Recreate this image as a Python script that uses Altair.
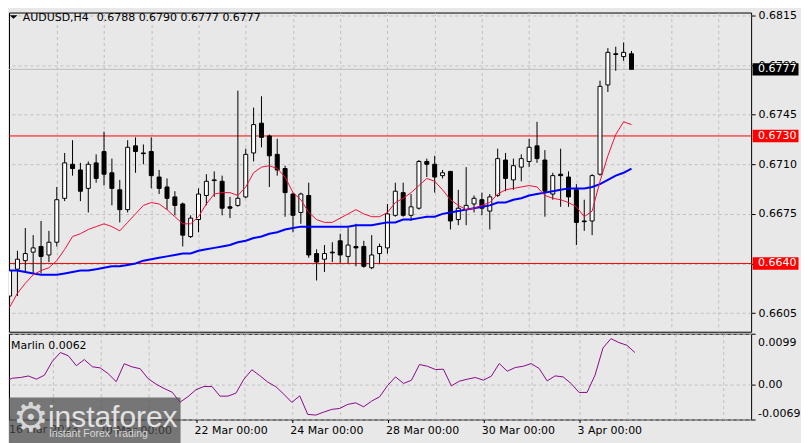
import altair as alt
import pandas as pd

# ---------------- data ----------------
opens = [0.6617, 0.6636, 0.6642, 0.6648, 0.6652, 0.6646, 0.6655, 0.6686, 0.6710, 0.6706,
         0.6693, 0.6711, 0.6719, 0.6704, 0.6692, 0.6678, 0.6723, 0.67180, 0.6719, 0.6701,
         0.6694, 0.6687, 0.6682, 0.6659, 0.6671, 0.6688, 0.66990, 0.6698, 0.6680, 0.6681,
         0.6687, 0.6718, 0.6739, 0.6730, 0.6717, 0.6707, 0.6689, 0.6676, 0.6688, 0.6647,
         0.6643, 0.66480, 0.6656, 0.6645, 0.6652, 0.6652, 0.6637, 0.6647, 0.6651, 0.6674,
         0.6690, 0.6674, 0.6679, 0.6712, 0.6710, 0.6702, 0.6705, 0.6671, 0.6678, 0.6682,
         0.6685, 0.6677, 0.6688, 0.6713, 0.6699, 0.6708, 0.6712, 0.6723, 0.6713, 0.6689,
         0.6703, 0.6701, 0.6692, 0.66700, 0.6670, 0.6703, 0.6766, 0.67880, 0.6786, 0.6788]
highs = [0.6645, 0.6649, 0.6665, 0.6660, 0.6670, 0.6663, 0.6694, 0.6718, 0.6727, 0.6711,
         0.6712, 0.6717, 0.6733, 0.6714, 0.6699, 0.6727, 0.6729, 0.6724, 0.6729, 0.6706,
         0.6700, 0.6691, 0.6683, 0.6674, 0.6693, 0.6703, 0.6705, 0.6702, 0.6687, 0.6762,
         0.6721, 0.6750, 0.6758, 0.6731, 0.6728, 0.6709, 0.6690, 0.6690, 0.6697, 0.6650,
         0.6653, 0.6655, 0.6661, 0.6665, 0.6668, 0.6656, 0.6660, 0.6654, 0.6682, 0.6697,
         0.6697, 0.6689, 0.6713, 0.6714, 0.6716, 0.6706, 0.6705, 0.6692, 0.6708, 0.6688,
         0.6690, 0.6689, 0.6721, 0.6718, 0.6714, 0.6717, 0.6728, 0.6740, 0.6720, 0.6704,
         0.6721, 0.6705, 0.6696, 0.6685, 0.6703, 0.6769, 0.6792, 0.6793, 0.6796, 0.6790]
lows = [0.6612, 0.6617, 0.6634, 0.6633, 0.6633, 0.6641, 0.6652, 0.6684, 0.6702, 0.6684,
        0.6676, 0.6697, 0.6695, 0.6681, 0.6669, 0.6676, 0.6704, 0.6710, 0.6693, 0.6689,
        0.6678, 0.6674, 0.6652, 0.6658, 0.6662, 0.6681, 0.6687, 0.6674, 0.6672, 0.6680,
        0.6686, 0.6712, 0.6722, 0.6694, 0.6702, 0.6673, 0.6662, 0.6668, 0.6644, 0.6628,
        0.6634, 0.6641, 0.6640, 0.6640, 0.6638, 0.6637, 0.6636, 0.6640, 0.6647, 0.6673,
        0.6673, 0.6670, 0.6678, 0.6701, 0.6690, 0.6700, 0.6664, 0.6667, 0.6667, 0.6676,
        0.6674, 0.6664, 0.6687, 0.6691, 0.6692, 0.6698, 0.6708, 0.6711, 0.6673, 0.6685,
        0.6680, 0.6680, 0.6653, 0.6663, 0.6660, 0.6702, 0.6761, 0.6776, 0.6783, 0.6777]
closes = [0.6635, 0.6643, 0.6647, 0.6651, 0.6645, 0.6655, 0.6685, 0.6711, 0.6707, 0.6691,
          0.6710, 0.6700, 0.6703, 0.6693, 0.6678, 0.6722, 0.6719, 0.67175, 0.6702, 0.6693,
          0.6686, 0.6681, 0.6660, 0.6672, 0.6689, 0.6698, 0.66985, 0.6679, 0.6679, 0.6686,
          0.6717, 0.6738, 0.6729, 0.6716, 0.6706, 0.6690, 0.6674, 0.6689, 0.6646, 0.6641,
          0.6647, 0.66475, 0.6646, 0.6653, 0.6651, 0.6638, 0.6646, 0.6652, 0.6675, 0.6691,
          0.6674, 0.6680, 0.6712, 0.6710, 0.6701, 0.6704, 0.6670, 0.6679, 0.6681, 0.6686,
          0.6679, 0.6687, 0.6714, 0.6700, 0.6709, 0.6714, 0.6722, 0.6714, 0.6691, 0.6702,
          0.6702, 0.6687, 0.6669, 0.66695, 0.6702, 0.6765, 0.6789, 0.67875, 0.6789, 0.6777]
ma_fast = [0.6609, 0.6619, 0.6626, 0.6632, 0.6635, 0.6637, 0.6642, 0.6650, 0.6659, 0.6661,
           0.6664, 0.6666, 0.6668, 0.6666, 0.6663, 0.6669, 0.6675, 0.6681, 0.6683, 0.6682,
           0.6678, 0.6673, 0.6668, 0.6668, 0.6673, 0.6682, 0.6689, 0.6690, 0.6690, 0.6688,
           0.6694, 0.6704, 0.6708, 0.6709, 0.6707, 0.6701, 0.6690, 0.6685, 0.6676, 0.6671,
           0.6669, 0.6669, 0.6672, 0.6675, 0.6678, 0.6675, 0.6673, 0.6673, 0.6676, 0.6683,
           0.6686, 0.6690, 0.6695, 0.6700, 0.6698, 0.6692, 0.6685, 0.6681, 0.6678, 0.6679,
           0.6681, 0.6683, 0.6689, 0.6692, 0.6693, 0.6694, 0.6695, 0.6694, 0.6688, 0.6686,
           0.6685, 0.6683, 0.6680, 0.6673, 0.6677, 0.6698, 0.6716, 0.6731, 0.6740, 0.6738]
ma_slow = [0.6635, 0.6635, 0.6634, 0.6633, 0.6632, 0.6632, 0.6632, 0.6633, 0.6634, 0.6635,
           0.6635, 0.6636, 0.6637, 0.6638, 0.6638, 0.6639, 0.6640, 0.6642, 0.6643, 0.6644,
           0.6645, 0.6646, 0.6647, 0.6647, 0.6649, 0.6650, 0.6651, 0.6652, 0.6653, 0.6655,
           0.6656, 0.6658, 0.6659, 0.6661, 0.6662, 0.6664, 0.6665, 0.6666, 0.6666, 0.6666,
           0.6666, 0.6666, 0.6666, 0.6666, 0.6667, 0.6667, 0.6667, 0.6668, 0.6669, 0.6669,
           0.6671, 0.6671, 0.6672, 0.6673, 0.6673, 0.6675, 0.6676, 0.6677, 0.6678, 0.6679,
           0.6680, 0.6681, 0.6683, 0.6683, 0.6685, 0.6686, 0.6688, 0.6689, 0.6690, 0.6691,
           0.6692, 0.6693, 0.6693, 0.6693, 0.6694, 0.6696, 0.6699, 0.6702, 0.6704, 0.6707]
marlin = [0.00051, 0.00119, 0.00133, 0.00162, 0.00100, 0.00178, 0.00451, 0.00621, 0.00559, 0.00363,
          0.00484, 0.00344, 0.00320, 0.00207, 0.00051, 0.00402, 0.00340, 0.00305, 0.00109, 0.00002,
          -0.00082, -0.00154, -0.00350, -0.00242, -0.00105, -0.00043, -0.00043, -0.00232, -0.00232, -0.00174,
          0.00100, 0.00285, 0.00168, 0.00041, -0.00047, -0.00193, -0.00355, -0.00227, -0.00590, -0.00603,
          -0.00545, -0.00492, -0.00473, -0.00395, -0.00363, -0.00441, -0.00330, -0.00246, -0.00027, 0.00145,
          0.00016, 0.00080, 0.00387, 0.00353, 0.00289, 0.00295, -0.00031, 0.00061, 0.00100, 0.00133,
          0.00080, 0.00158, 0.00406, 0.00256, 0.00328, 0.00353, 0.00406, 0.00309, 0.00066, 0.00164,
          0.00145, 0.00016, -0.00160, -0.00160, 0.00178, 0.00711, 0.00894, 0.00816, 0.00764, 0.00621]

first_label = "16 Mar 2023"
x_labels = ["20 Mar 00:00", "22 Mar 00:00", "24 Mar 00:00", "28 Mar 00:00", "30 Mar 00:00", "3 Apr 00:00"]
price_ticks = [0.6815, 0.6780, 0.6745, 0.6710, 0.6675, 0.6640, 0.6605]
marlin_ticks = [-0.0069, 0.0, 0.0099]
marlin_tick_labels = ["-0.0069", "0.00", "0.0099"]
levels = [0.6730, 0.6640]
last_price = 0.6777
symbol_text = "AUDUSD,H4"
ohlc_text = "0.6788 0.6790 0.6777 0.6777"
marlin_text = "Marlin 0.0062"
brand_text = "instaforex"
brand_sub = "Instant Forex Trading"

# ---------------- layout / style ----------------
W = 744
H_MAIN = 320
H_SUB = 86
X0 = 0.5625
PX_PER_PRICE = 14205.0
Y_TOP = 0.68171
FONT = "DejaVu Sans"
GRID = "#c0c0c0"
BG = "#e8e8e8"

candles = pd.DataFrame({
    "i": list(range(len(opens))), "o": opens, "h": highs, "l": lows, "c": closes,
    "fast": ma_fast, "slow": ma_slow, "marlin": marlin,
})

xscale = alt.Scale(domain=[X0, X0 + W / 8.0], nice=False, zero=False)
yscale = alt.Scale(domain=[Y_TOP - H_MAIN / PX_PER_PRICE, Y_TOP], nice=False, zero=False)
mscale = alt.Scale(domain=[marlin_ticks[0], marlin_ticks[-1]], nice=False, zero=False)

grid_vals = list(range(6, 91, 6))

x_main_axis = alt.Axis(values=grid_vals, labels=False, ticks=False, domain=False, title=None,
                       grid=True, gridColor=GRID, gridDash=[3, 3], gridWidth=1,
                       minExtent=0, maxExtent=0)
y_main_axis = alt.Axis(orient="right", values=price_ticks, format=".4f", title=None, domain=False,
                       ticks=True, tickSize=4, tickColor="black", labelPadding=3,
                       labelFont=FONT, labelFontSize=11, labelColor="black", labelOverlap=False,
                       grid=True, gridColor=GRID, gridDash=[3, 3], gridWidth=1)

lab_arr = "[" + ",".join("'" + s + "'" for s in x_labels) + "]"
x_sub_axis = alt.Axis(
    values=grid_vals, title=None, domain=False,
    labelExpr=f"(datum.value % 12 === 0 && datum.value >= 12 && datum.value <= 72) ? {lab_arr}[datum.value / 12 - 1] : ''",
    ticks=True, tickSize=3, tickColor="black",
    tickOpacity={"condition": {"test": "datum.value % 12 === 0 && datum.value <= 72", "value": 1}, "value": 0},
    labelAlign="left", labelBaseline="top", labelPadding=2, labelOffset=-2, labelFlush=False,
    labelOverlap=False, labelFont=FONT, labelFontSize=11, labelColor="black",
    grid=True, gridColor=GRID, gridDash=[3, 3], gridWidth=1)
y_sub_axis = alt.Axis(
    orient="right", values=marlin_ticks, title=None, domain=False, labels=False,
    ticks=True, tickSize=4, tickColor="black",
    grid=True, gridColor=GRID, gridDash=[3, 3], gridWidth=1)

X = alt.X("i:Q", scale=xscale, axis=x_main_axis)

def Y(field):
    return alt.Y(field, scale=yscale, axis=y_main_axis)

base = alt.Chart(candles)

last_df = pd.DataFrame({"p": [last_price]})
lvl_df = pd.DataFrame({"p": levels})
tag_df = pd.DataFrame({"p": [last_price] + levels,
                       "t": [f"{last_price:.4f}"] + [f"{v:.4f}" for v in levels],
                       "bg": ["black"] + ["red"] * len(levels)})

last_rule = alt.Chart(last_df).mark_rule(color="#bdbdbd", strokeWidth=1).encode(y=Y("p:Q"))
lvl_rule = alt.Chart(lvl_df).mark_rule(color="#ff0000", strokeWidth=1).encode(y=Y("p:Q"))

wicks = base.mark_rule(color="black", strokeWidth=1, clip=True).encode(x=X, y=Y("l:Q"), y2="h:Q")
bodies = base.mark_bar(width=4, stroke="black", strokeWidth=1, clip=True).encode(
    x=X, y=Y("o:Q"), y2="c:Q",
    color=alt.condition("datum.c > datum.o", alt.value("white"), alt.value("black")))
slow_line = base.mark_line(color="#0000ff", strokeWidth=2, clip=True).encode(x=X, y=Y("slow:Q"))
fast_line = base.mark_line(color="#f0103c", strokeWidth=1, clip=True).encode(x=X, y=Y("fast:Q"))

tag_box = alt.Chart(tag_df).mark_point(shape="M-1,-0.27H1V0.27H-1Z", filled=True, size=46 * 46,
                                       opacity=1, strokeWidth=0).encode(
    x=alt.value(W + 24.5), y=Y("p:Q"), color=alt.Color("bg:N", scale=None))
tag_text = alt.Chart(tag_df).mark_text(align="left", baseline="middle", font=FONT, fontSize=11,
                                       color="white").encode(
    x=alt.value(W + 7), y=Y("p:Q"), text="t:N")

one = pd.DataFrame({"k": [0]})
hdr1 = alt.Chart(pd.DataFrame({"t": [symbol_text]})).mark_text(
    align="left", baseline="alphabetic", font=FONT, fontSize=11, color="black").encode(
    x=alt.value(13.7), y=alt.value(8.7), text="t:N")
hdr2 = alt.Chart(pd.DataFrame({"t": [ohlc_text]})).mark_text(
    align="left", baseline="alphabetic", font=FONT, fontSize=11, color="black").encode(
    x=alt.value(88), y=alt.value(8.7), text="t:N")
tri = alt.Chart(one).mark_point(shape="M-1,-0.45L1,-0.45L0,0.45Z", filled=True, size=64,
                                color="black", opacity=1, strokeWidth=0).encode(
    x=alt.value(4.5), y=alt.value(4.5))

main = alt.layer(last_rule, lvl_rule, wicks, bodies, slow_line, fast_line,
                 tag_box, tag_text, hdr1, hdr2, tri).properties(width=W, height=H_MAIN)

# ---------------- oscillator panel ----------------
XS = alt.X("i:Q", scale=xscale, axis=x_sub_axis)
MY = alt.Y("v:Q", scale=mscale, axis=y_sub_axis)
marlin_line = base.mark_line(color="#8b0a8b", strokeWidth=1, clip=True).encode(
    x=XS, y=alt.Y("marlin:Q", scale=mscale, axis=y_sub_axis))

mt_df = pd.DataFrame({"v": marlin_ticks, "t": marlin_tick_labels})
m_lbls = [
    alt.Chart(mt_df[mt_df["t"] == lbl]).mark_text(
        align="left", baseline="middle", font=FONT, fontSize=11, color="black", dy=dy).encode(
        x=alt.value(W + 7), y=MY, text="t:N")
    for lbl, dy in zip(marlin_tick_labels, [-6.0, 0.5, 9.5])
]
marlin_lbl = alt.Chart(pd.DataFrame({"t": [marlin_text]})).mark_text(
    align="left", baseline="alphabetic", font=FONT, fontSize=11, color="black").encode(
    x=alt.value(2), y=alt.value(15.5), text="t:N")
first_lbl = alt.Chart(pd.DataFrame({"t": [first_label]})).mark_text(
    align="left", baseline="top", font=FONT, fontSize=11, color="black").encode(
    x=alt.value(0), y=alt.value(H_SUB + 5), text="t:N")

wm_box = alt.Chart(one).mark_rect(color="#4a4a4a", opacity=0.72).encode(
    x=alt.value(0), x2=alt.value(172), y=alt.value(64), y2=alt.value(110))
wm_gear = alt.Chart(pd.DataFrame({"t": ["\u2699"]})).mark_text(
    align="center", baseline="middle", font=FONT, fontSize=40, color="#d6d6d6").encode(
    x=alt.value(22), y=alt.value(86), text="t:N")
wm_brand = alt.Chart(pd.DataFrame({"t": [brand_text]})).mark_text(
    align="left", baseline="alphabetic", font="Liberation Sans", fontSize=30, color="#e2e2e2").encode(
    x=alt.value(39), y=alt.value(94), text="t:N")
wm_sub = alt.Chart(pd.DataFrame({"t": [brand_sub]})).mark_text(
    align="left", baseline="middle", font="Liberation Sans", fontSize=10.5, color="#d8d8d8").encode(
    x=alt.value(40), y=alt.value(101), text="t:N")

sub = alt.layer(marlin_line, *m_lbls, marlin_lbl, first_lbl, wm_box, wm_gear, wm_brand, wm_sub).properties(
    width=W, height=H_SUB)

chart = alt.vconcat(main, sub, spacing=0).resolve_scale(
    x="independent", y="independent").properties(
    padding=0, background=BG).configure_view(stroke="black", strokeWidth=1, fill=BG)

chart.save("out.html", embed_options={"renderer": "svg", "actions": False})
